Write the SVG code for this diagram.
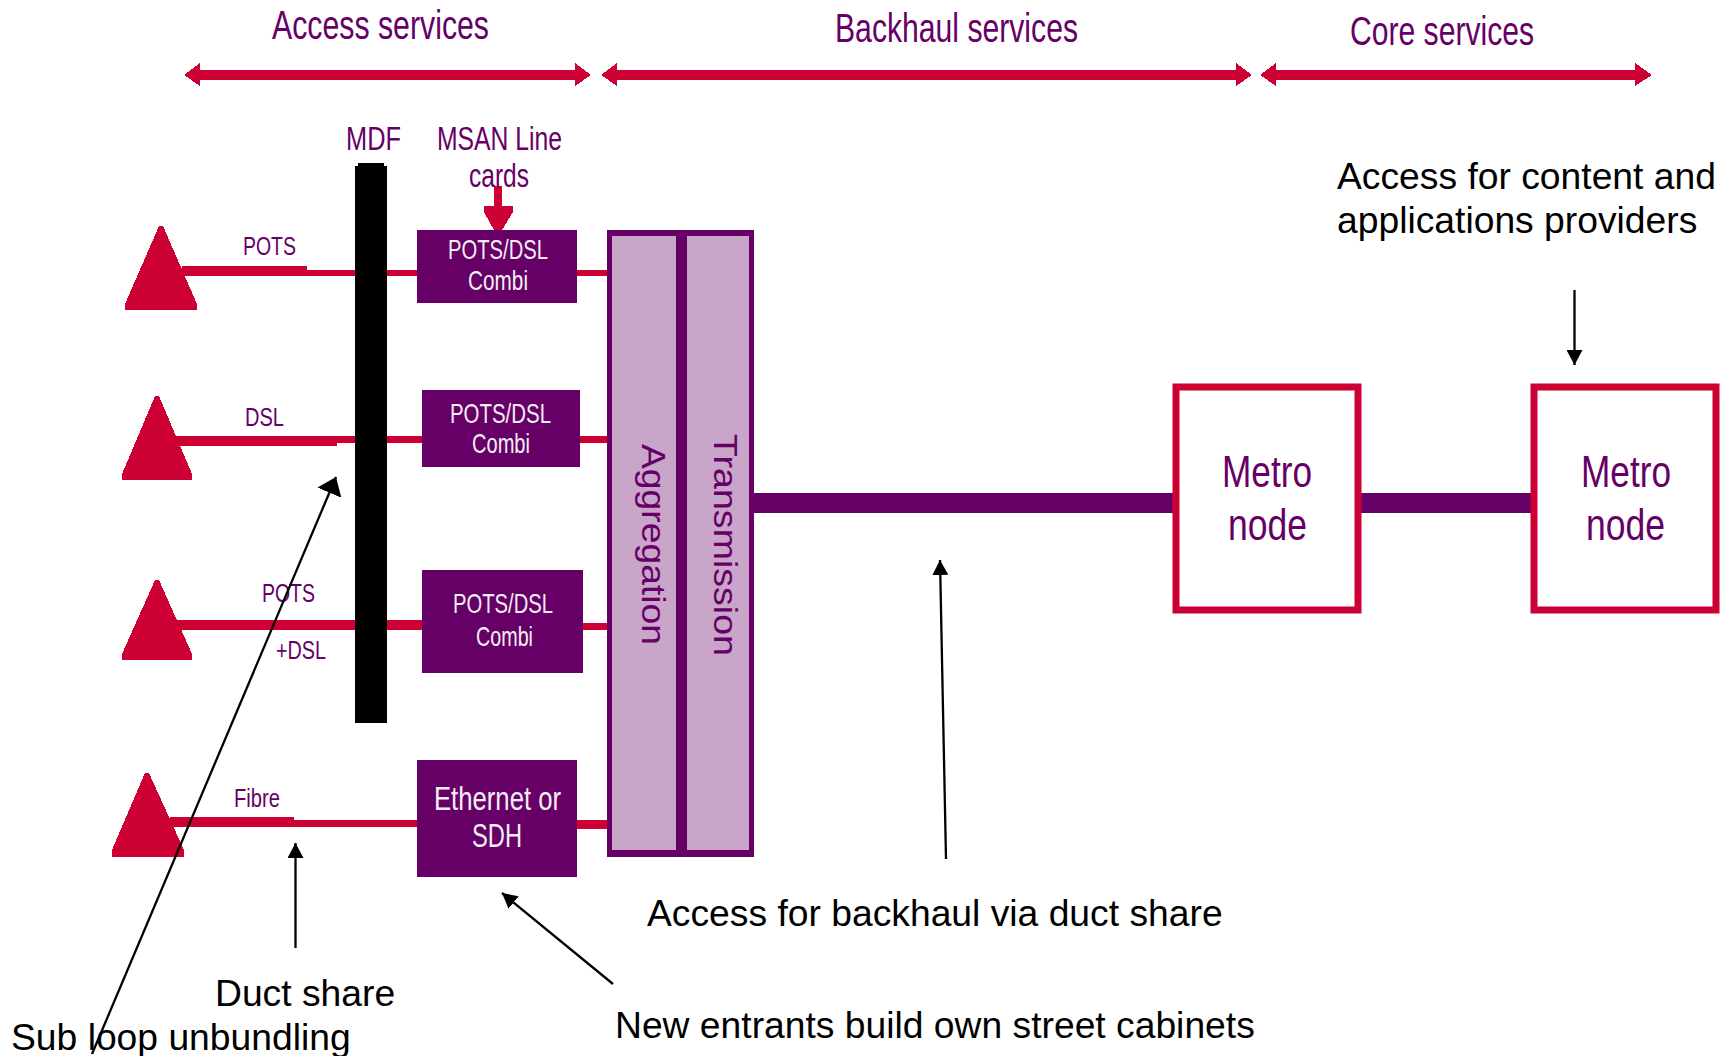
<svg xmlns="http://www.w3.org/2000/svg" width="1729" height="1056" viewBox="0 0 1729 1056">
<style>
text{font-family:"Liberation Sans",Arial,sans-serif}
.p{fill:#660066}
.w{fill:#f4eef4}
.k{fill:#000;font-size:37.25px}
.h{font-size:40px}
.m{font-size:33px}
.s{font-size:26px}
.b{font-size:28px}
.t{font-size:45px}
.r{fill:#cc0033;shape-rendering:crispEdges}
.d{fill:#660066;shape-rendering:crispEdges}
.a{stroke:#000;stroke-width:2.3;fill:none;marker-end:url(#ah)}
.n{fill:#fff;stroke:#cc0033;stroke-width:7}
.l{fill:#c9a5c9;shape-rendering:crispEdges}
</style>
<defs>
<marker id="ah" markerUnits="userSpaceOnUse" markerWidth="16" markerHeight="16" refX="15" refY="8" orient="auto"><path d="M0 0L15 8L0 16Z" fill="#000"/></marker>
<marker id="ahw" markerUnits="userSpaceOnUse" markerWidth="18" markerHeight="26" refX="17" refY="13" orient="auto"><path d="M0 0L17 13L0 26Z" fill="#000"/></marker>
</defs>
<g id="band-access">
<text class="p h" x="272" y="39" textLength="217" lengthAdjust="spacingAndGlyphs">Access services</text>
<polygon class="r" points="184,75 200,63 200,70 575,70 575,63 591,75 575,86 575,80 200,80 200,86"/>
</g>
<g id="band-backhaul">
<text class="p h" x="835" y="42" textLength="243" lengthAdjust="spacingAndGlyphs">Backhaul services</text>
<polygon class="r" points="601,75 617,63 617,70 1236,70 1236,63 1252,75 1236,86 1236,80 617,80 617,86"/>
</g>
<g id="band-core">
<text class="p h" x="1350" y="45" textLength="184" lengthAdjust="spacingAndGlyphs">Core services</text>
<polygon class="r" points="1260,75 1276,63 1276,70 1635,70 1635,63 1652,75 1635,86 1635,80 1276,80 1276,86"/>
</g>
<g id="connectors">
<path class="r" d="M182 266H307V270H355V276H182Z"/>
<rect class="r" x="387" y="270" width="30" height="6"/>
<rect class="r" x="577" y="270" width="30" height="6"/>
<path class="r" d="M176 436H355V443H337V446H176Z"/>
<rect class="r" x="387" y="436" width="35" height="7"/>
<rect class="r" x="580" y="436" width="27" height="7"/>
<rect class="r" x="175" y="620" width="180" height="10"/>
<rect class="r" x="387" y="620" width="35" height="10"/>
<rect class="r" x="583" y="623" width="24" height="7"/>
<path class="r" d="M170 817H294V820H417V827H170Z"/>
<rect class="r" x="577" y="820" width="30" height="9"/>
<rect class="d" x="754" y="493" width="420" height="20"/>
<rect class="d" x="1361" y="493" width="172" height="20"/>
<polygon class="r" points="494,186 502,186 502,206 513,206 513,212 502,230 494,230 484,212 484,206 494,206"/>
</g>
<g id="tri-pots"><polygon class="r" points="159,226 163,226 197,304 197,310 125,310 125,304"/><text class="p s" x="243" y="255" textLength="53" lengthAdjust="spacingAndGlyphs">POTS</text></g>
<g id="tri-dsl"><polygon class="r" points="155,396 159,396 192,474 192,480 122,480 122,474"/><text class="p s" x="245" y="426" textLength="39" lengthAdjust="spacingAndGlyphs">DSL</text></g>
<g id="tri-potsdsl"><polygon class="r" points="155,580 159,580 192,654 192,660 122,660 122,654"/><text class="p s" x="262" y="602" textLength="53" lengthAdjust="spacingAndGlyphs">POTS</text><text class="p s" x="276" y="659" textLength="50" lengthAdjust="spacingAndGlyphs">+DSL</text></g>
<g id="tri-fibre"><polygon class="r" points="145,773 149,773 184,850 184,857 112,857 112,850"/><text class="p s" x="234" y="807" textLength="46" lengthAdjust="spacingAndGlyphs">Fibre</text></g>
<g id="mdf">
<rect x="355" y="166" width="32" height="557" fill="#000" shape-rendering="crispEdges"/><rect x="358" y="163" width="26" height="3" fill="#000" shape-rendering="crispEdges"/>
<text class="p m" x="346" y="150" textLength="55" lengthAdjust="spacingAndGlyphs">MDF</text>
</g>
<g id="msan-label">
<text class="p m" x="437" y="150" textLength="125" lengthAdjust="spacingAndGlyphs">MSAN Line</text>
<text class="p m" x="469" y="187" textLength="60" lengthAdjust="spacingAndGlyphs">cards</text>
</g>
<g id="combi-1"><rect class="d" x="417" y="230" width="160" height="73"/><text class="w b" x="448" y="259" textLength="100" lengthAdjust="spacingAndGlyphs">POTS/DSL</text><text class="w b" x="468" y="290" textLength="60" lengthAdjust="spacingAndGlyphs">Combi</text></g>
<g id="combi-2"><rect class="d" x="422" y="390" width="158" height="77"/><text class="w b" x="450" y="423" textLength="101" lengthAdjust="spacingAndGlyphs">POTS/DSL</text><text class="w b" x="472" y="453" textLength="58" lengthAdjust="spacingAndGlyphs">Combi</text></g>
<g id="combi-3"><rect class="d" x="422" y="570" width="161" height="103"/><text class="w b" x="453" y="613" textLength="100" lengthAdjust="spacingAndGlyphs">POTS/DSL</text><text class="w b" x="476" y="646" textLength="57" lengthAdjust="spacingAndGlyphs">Combi</text></g>
<g id="ethernet"><rect class="d" x="417" y="760" width="160" height="117"/><text class="w m" x="434" y="810" textLength="127" lengthAdjust="spacingAndGlyphs">Ethernet or</text><text class="w m" x="472" y="847" textLength="50" lengthAdjust="spacingAndGlyphs">SDH</text></g>
<g id="aggregation">
<rect class="d" x="607" y="230" width="147" height="627"/>
<rect class="l" x="612" y="236" width="64" height="614"/>
<text class="p m" transform="translate(642 444) rotate(90)" textLength="201" lengthAdjust="spacingAndGlyphs">Aggregation</text>
</g>
<g id="transmission">
<rect class="l" x="687" y="236" width="62" height="614"/>
<text class="p m" transform="translate(714 434) rotate(90)" textLength="222" lengthAdjust="spacingAndGlyphs">Transmission</text>
</g>
<g id="metro-1"><rect class="n" x="1176" y="387" width="182" height="223"/><text class="p t" x="1222" y="487" textLength="90" lengthAdjust="spacingAndGlyphs">Metro</text><text class="p t" x="1228" y="540" textLength="79" lengthAdjust="spacingAndGlyphs">node</text></g>
<g id="metro-2"><rect class="n" x="1534" y="387" width="182" height="223"/><text class="p t" x="1581" y="487" textLength="90" lengthAdjust="spacingAndGlyphs">Metro</text><text class="p t" x="1586" y="540" textLength="79" lengthAdjust="spacingAndGlyphs">node</text></g>
<g id="annotations">
<line x1="92" y1="1054" x2="336" y2="477" stroke="#000" stroke-width="2.3" marker-end="url(#ahw)"/>
<line class="a" x1="295.500" y1="948" x2="295.500" y2="843"/>
<line class="a" x1="613" y1="984" x2="502" y2="893"/>
<line class="a" x1="946" y1="859" x2="940" y2="560"/>
<line class="a" x1="1574.500" y1="290" x2="1574.500" y2="365"/>
<text class="k" x="1337" y="189">Access for content and</text>
<text class="k" x="1337" y="233">applications providers</text>
<text class="k" x="647" y="926">Access for backhaul via duct share</text>
<text class="k" x="615" y="1038">New entrants build own street cabinets</text>
<text class="k" x="215" y="1006">Duct share</text>
<text class="k" x="11" y="1050">Sub loop unbundling</text>
</g>
</svg>
